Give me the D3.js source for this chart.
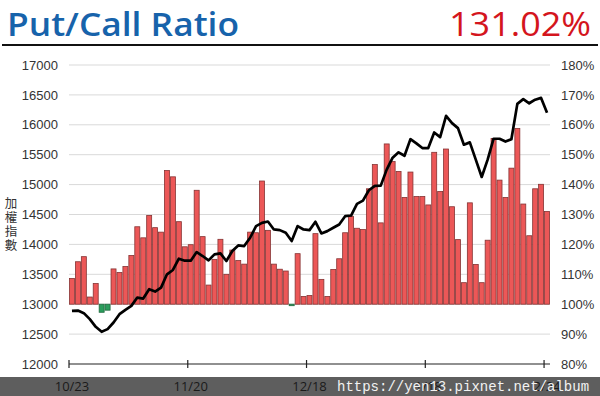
<!DOCTYPE html>
<html>
<head>
<meta charset="utf-8">
<script src="https://cdn.jsdelivr.net/npm/d3@7"></script>
<style>
body{margin:0;background:#fff;}
svg{display:block;font-family:"Open Sans","Noto Sans",sans-serif;}
</style>
</head>
<body>
<div id="chart"></div>
<script>
// trading days, 2020/10/23 - 2021/02/24
const dates = [
  "10/23","10/26","10/27","10/28","10/29","10/30",
  "11/2","11/3","11/4","11/5","11/6","11/9","11/10","11/11","11/12","11/13",
  "11/16","11/17","11/18","11/19","11/20","11/23","11/24","11/25","11/26","11/27","11/30",
  "12/1","12/2","12/3","12/4","12/7","12/8","12/9","12/10","12/11",
  "12/14","12/15","12/16","12/17","12/18","12/21","12/22","12/23","12/24","12/25",
  "12/28","12/29","12/30","12/31",
  "1/4","1/5","1/6","1/7","1/8","1/11","1/12","1/13","1/14","1/15",
  "1/18","1/19","1/20","1/21","1/22","1/25","1/26","1/27","1/28","1/29",
  "2/1","2/2","2/3","2/4","2/5","2/17","2/18","2/19","2/22","2/23","2/24"
];
// put/call ratio (%)
const ratio = [
  108.6,114.2,115.9,102.4,106.9,97.3,98.0,111.8,110.6,112.6,
  116.3,125.9,122.2,129.7,125.6,124.1,144.7,142.6,127.6,119.2,
  119.9,138.1,122.6,106.4,115.0,121.7,110.0,118.1,114.6,113.4,
  124.1,123.9,141.2,124.7,113.4,111.7,111.1,99.5,116.9,102.6,
  102.9,123.6,108.3,102.6,111.6,115.2,123.9,129.4,125.4,125.0,
  138.6,146.7,127.2,153.6,147.7,144.4,135.7,144.2,136.0,136.0,
  133.2,150.8,137.7,151.9,132.6,121.6,107.2,133.9,113.3,107.2,
  121.4,155.4,141.5,135.7,145.5,158.8,133.5,122.9,138.6,140.1,
  131.02
];
// 加權指數
const taiex = [
  12889,12894,12850,12750,12622,12539,12583,12694,12833,12906,
  12972,13111,13094,13250,13211,13278,13500,13572,13761,13728,
  13728,13872,13806,13733,13833,13850,13722,13889,13983,13972,
  14111,14306,14361,14383,14250,14239,14194,14056,14306,14250,
  14239,14378,14183,14222,14278,14333,14472,14483,14678,14733,
  14906,14980,14983,15250,15450,15540,15483,15760,15690,15611,
  15611,15872,15794,16150,16028,15944,15667,15706,15417,15128,
  15417,15767,15767,15720,15760,16350,16430,16360,16420,16450,
  16200
];
const tickIdx = [0, 20, 40, 60, 80];
const leftTicks = d3.range(12000, 17001, 500);
const rightTicks = d3.range(80, 181, 10);

const W = 600, H = 396;
const plot = {left: 69, right: 550, top: 65, bottom: 364};

const svg = d3.select('#chart').append('svg')
  .attr('width', W).attr('height', H);
svg.append('rect').attr('width', W).attr('height', H).attr('fill', '#fff');

// title
svg.append('text').attr('x', 7).attr('y', 36)
  .attr('font-size', 33).attr('font-weight', 600).attr('fill', '#1763ab')
  .attr('textLength', 232).attr('lengthAdjust', 'spacingAndGlyphs')
  .text('Put/Call Ratio');
svg.append('text').attr('x', 591).attr('y', 36)
  .attr('text-anchor', 'end')
  .attr('font-size', 33).attr('font-weight', 500).attr('fill', '#d4151d')
  .attr('textLength', 142).attr('lengthAdjust', 'spacingAndGlyphs')
  .text(ratio[ratio.length - 1].toFixed(2) + '%');
svg.append('line').attr('x1', 2).attr('x2', 598).attr('y1', 45).attr('y2', 45)
  .attr('stroke', '#111').attr('stroke-width', 2);

const x = d3.scaleBand()
  .domain(d3.range(dates.length))
  .range([plot.left, plot.right])
  .paddingInner(0.16).paddingOuter(0.08);
const yL = d3.scaleLinear().domain([12000, 17000]).range([plot.bottom, plot.top]);
const yR = d3.scaleLinear().domain([80, 180]).range([plot.bottom, plot.top]);

// gridlines
svg.append('g')
  .selectAll('line')
  .data(leftTicks.slice(1))
  .join('line')
  .attr('x1', plot.left).attr('x2', plot.right)
  .attr('y1', d => yL(d)).attr('y2', d => yL(d))
  .attr('stroke', '#d9d9d9').attr('stroke-width', 1);

// left axis
const gl = svg.append('g').attr('transform', `translate(${plot.left},0)`)
  .call(d3.axisLeft(yL).tickValues(leftTicks).tickFormat(d3.format('d')).tickSize(0).tickPadding(11));
gl.select('.domain').remove();
gl.selectAll('text').attr('font-size', 13).attr('fill', '#333').attr('font-family', null);

// right axis
const gr = svg.append('g').attr('transform', `translate(${plot.right},0)`)
  .call(d3.axisRight(yR).tickValues(rightTicks).tickFormat(d => d + '%').tickSize(0).tickPadding(11));
gr.select('.domain').remove();
gr.selectAll('text').attr('font-size', 13).attr('fill', '#333').attr('font-family', null);

// y title, one character per line
const ytitle = ['加', '權', '指', '數'];
svg.append('g').selectAll('text')
  .data(ytitle)
  .join('text')
  .attr('x', 11).attr('y', (d, i) => 208 + i * 14)
  .attr('text-anchor', 'middle')
  .attr('font-size', 12.5)
  .attr('font-family', '"Noto Sans CJK TC", sans-serif')
  .attr('fill', '#333')
  .text(d => d);

// ratio bars from 100%
svg.append('g')
  .selectAll('rect')
  .data(ratio)
  .join('rect')
  .attr('x', (d, i) => x(i))
  .attr('width', x.bandwidth())
  .attr('y', d => d >= 100 ? yR(d) : yR(100))
  .attr('height', d => Math.max(1, Math.abs(yR(d) - yR(100))))
  .attr('fill', d => d >= 100 ? '#ec5757' : '#2a9d5c')
  .attr('stroke', d => d >= 100 ? '#853333' : '#1f6a3e')
  .attr('stroke-width', 0.8);

// index line
const line = d3.line()
  .x((d, i) => x(i) + x.bandwidth() / 2)
  .y(d => yL(d));
svg.append('path')
  .datum(taiex)
  .attr('d', line)
  .attr('fill', 'none')
  .attr('stroke', '#000')
  .attr('stroke-width', 2.7)
  .attr('stroke-linejoin', 'round');

// bottom axis line with + ticks at slot boundaries
const step = x.step();
svg.append('line')
  .attr('x1', plot.left).attr('x2', plot.right)
  .attr('y1', plot.bottom).attr('y2', plot.bottom)
  .attr('stroke', '#222').attr('stroke-width', 1.2);
svg.append('g').selectAll('line')
  .data(tickIdx)
  .join('line')
  .attr('x1', d => x(d) - step * x.paddingInner() / 2)
  .attr('x2', d => x(d) - step * x.paddingInner() / 2)
  .attr('y1', plot.bottom - 4).attr('y2', plot.bottom + 4)
  .attr('stroke', '#222').attr('stroke-width', 1.2);

// bottom band (photo overlay)
svg.append('rect').attr('x', 0).attr('y', 377).attr('width', W).attr('height', H - 377)
  .attr('fill', '#5e5e5e');
svg.append('g').selectAll('text')
  .data(tickIdx)
  .join('text')
  .attr('x', d => x(d) + x.bandwidth() / 2)
  .attr('y', 391)
  .attr('text-anchor', 'middle')
  .attr('font-size', 13)
  .attr('fill', '#1a1a1a')
  .text(d => dates[d]);
svg.append('text')
  .attr('x', 337).attr('y', 391)
  .attr('font-family', '"Liberation Mono", "DejaVu Sans Mono", monospace')
  .attr('font-size', 14)
  .attr('fill', '#f2f2f2')
  .text('https://yen13.pixnet.net/album');
</script>
</body>
</html>
